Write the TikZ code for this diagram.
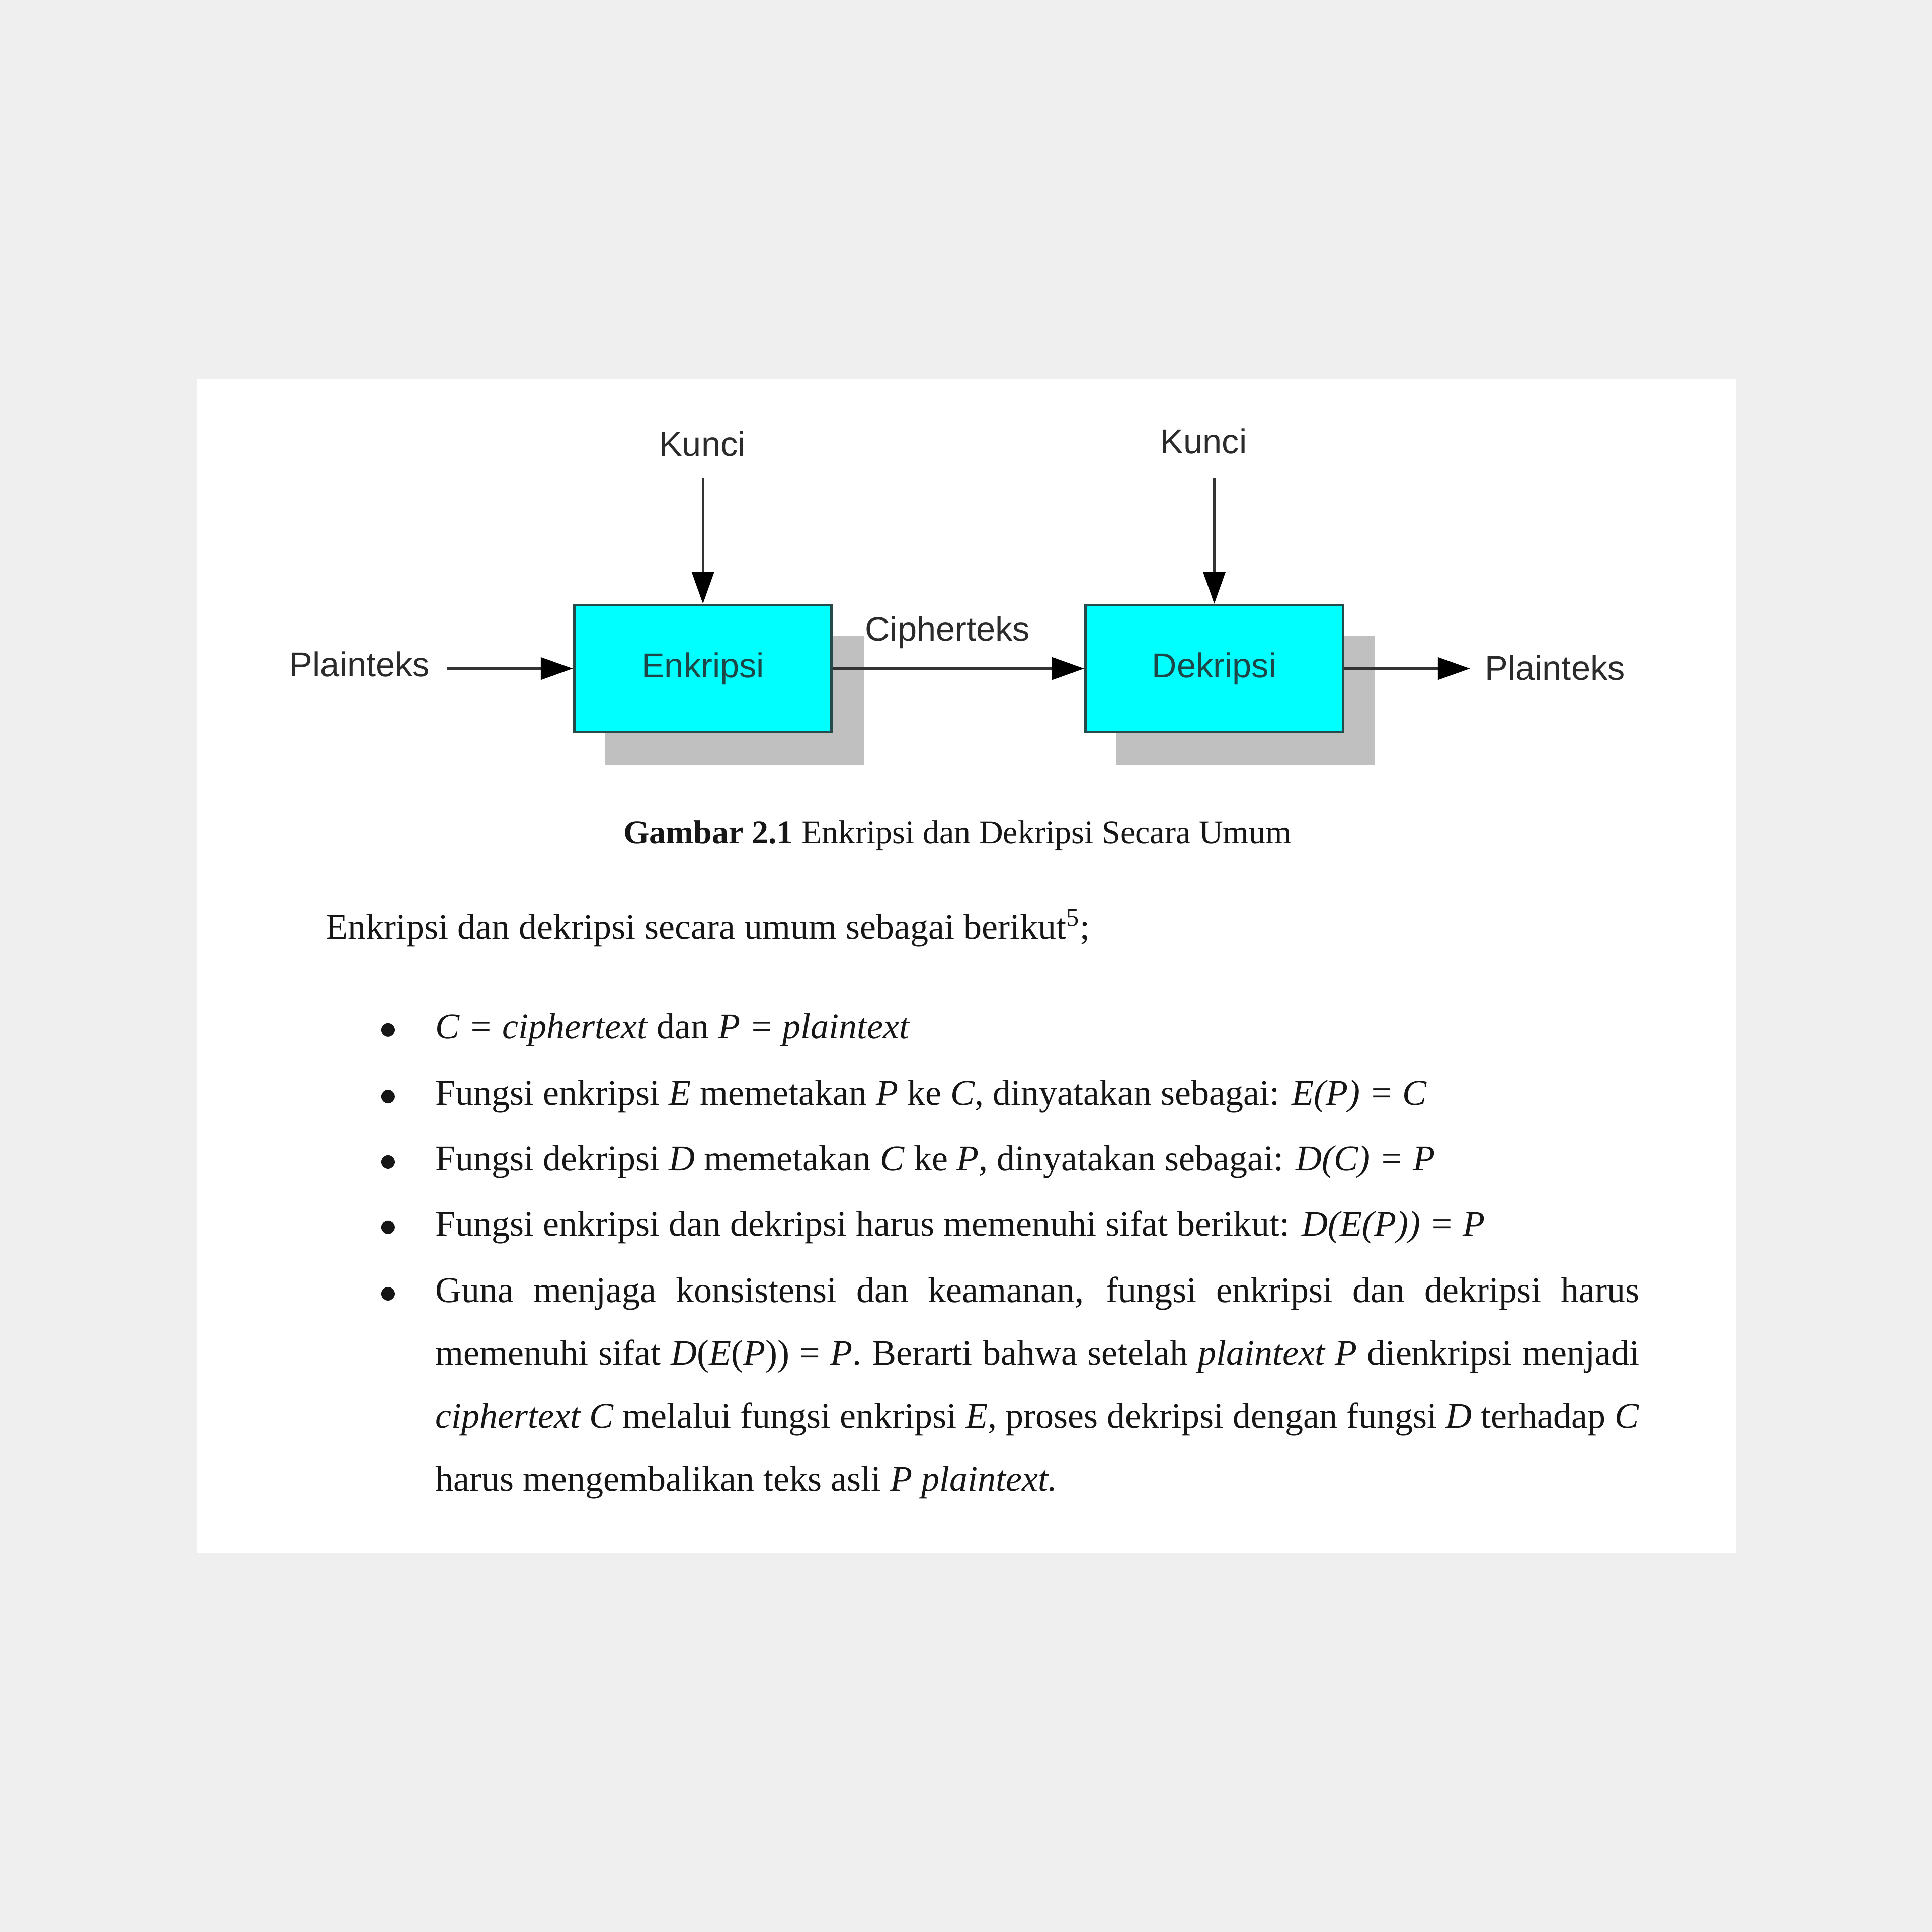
\documentclass[tikz,border=0pt]{standalone}
\usepackage{fontspec}
\setmainfont{Liberation Serif}
\setsansfont{Liberation Sans}
\usetikzlibrary{arrows.meta}
\definecolor{bg}{HTML}{EFEFEF}
\definecolor{boxcyan}{HTML}{00FFFF}
\definecolor{boxedge}{HTML}{264B4B}
\definecolor{boxtext}{HTML}{1E4646}
\definecolor{shadowgray}{HTML}{C0C0C0}
\definecolor{linegray}{HTML}{333333}
\definecolor{labelgray}{HTML}{2B2B2B}
\definecolor{bodytext}{HTML}{161616}
\begin{document}
\begin{tikzpicture}[x=0.5pt,y=-0.5pt,
  procbox/.style={draw=boxedge,line width=1.1pt,fill=boxcyan,minimum width=104.5pt,minimum height=51.5pt,inner sep=0pt,font=\sffamily\fontsize{14}{16}\selectfont,text=boxtext},
  lbl/.style={inner sep=0pt,font=\sffamily\fontsize{14}{16}\selectfont,text=labelgray},
  flow/.style={draw=linegray,line width=1pt,-{Triangle[length=13pt,width=9pt,color=black]}},
  capt/.style={inner sep=0pt,font=\fontsize{13.5}{16}\selectfont,text=bodytext},
  body/.style={inner sep=0pt,font=\fontsize{14.7}{25.5}\selectfont,text=bodytext},
  dot/.style={circle,fill=bodytext,inner sep=0pt,minimum size=5.5pt}]
% page and panel
\fill[bg] (0,0) rectangle (1568,1568);
\fill[white] (160,308) rectangle (1409,1260);
\useasboundingbox (0,0) rectangle (1568,1568);
% shadows
\fill[shadowgray] (491,516) rectangle (701,621);
\fill[shadowgray] (906,516) rectangle (1116,621);
% boxes
\node[procbox] (enk) at (570.5,542.5) {Enkripsi};
\node[procbox] (dek) at (985.5,542.5) {Dekripsi};
% labels
\node[lbl] (kunci1) at (570,360) {Kunci};
\node[lbl] (kunci2) at (977,358) {Kunci};
\node[lbl] (plainL) at (292,539) {Plainteks};
\node[lbl] (cipher) at (769,513) {Cipherteks};
\node[lbl] (plainR) at (1262,542) {Plainteks};
\coordinate (k1s) at (570.5,388);
\coordinate (k2s) at (985.5,388);
\coordinate (pls) at (363,542.5);
\coordinate (pre) at (1193,542.5);
% connectors
\draw[flow] (k1s) -- (enk.north);
\draw[flow] (k2s) -- (dek.north);
\draw[flow] (pls) -- (enk.west);
\draw[flow] (enk.east) -- (dek.west);
\draw[flow] (dek.east) -- (pre);
% caption
\node[capt] (cap) at (777,678) {\textbf{Gambar 2.1} Enkripsi dan Dekripsi Secara Umum};
% intro
\node[body,anchor=base west] (intro) at (264,762) {Enkripsi dan dekripsi secara umum sebagai berikut\textsuperscript{5};};
% bullets
\node[dot] (d1) at (315,836) {};
\node[dot] (d2) at (315,890) {};
\node[dot] (d3) at (315,943) {};
\node[dot] (d4) at (315,996) {};
\node[dot] (d5) at (315,1050) {};
\node[body,anchor=base west] (t1) at (353,843) {\textit{C = ciphertext} dan \textit{P = plaintext}};
\node[body,anchor=base west] (t2) at (353,897) {Fungsi enkripsi \textit{E} memetakan \textit{P} ke \textit{C}, dinyatakan sebagai: \textit{E(P) = C}};
\node[body,anchor=base west] (t3) at (353,950) {Fungsi dekripsi \textit{D} memetakan \textit{C} ke \textit{P}, dinyatakan sebagai: \textit{D(C) = P}};
\node[body,anchor=base west] (t4) at (353,1003) {Fungsi enkripsi dan dekripsi harus memenuhi sifat berikut: \textit{D(E(P)) = P}};
\node[body,anchor=base west,text width=488.5pt,align=justify] (t5) at (353,1057) {\emergencystretch=2em Guna menjaga konsistensi dan keamanan, fungsi enkripsi dan dekripsi harus\linebreak memenuhi sifat \textit{D}(\textit{E}(\textit{P})) = \textit{P}. Berarti bahwa setelah \textit{plaintext P} dienkripsi menjadi\linebreak \textit{ciphertext C} melalui fungsi enkripsi \textit{E}, proses dekripsi dengan fungsi \textit{D} terhadap \textit{C}\linebreak harus mengembalikan teks asli \textit{P plaintext.}};
\end{tikzpicture}
\end{document}
